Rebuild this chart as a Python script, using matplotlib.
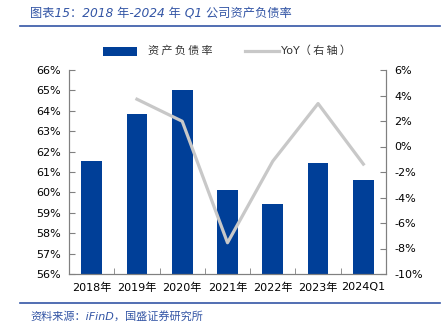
import matplotlib.pyplot as plt
import matplotlib.ticker as mticker
from matplotlib.patches import Rectangle
from matplotlib.lines import Line2D
import numpy as np

plt.rcParams['font.family'] = ['DejaVu Sans', 'Noto Sans CJK SC']

# data
years = ["2018年", "2019年", "2020年", "2021年", "2022年", "2023年", "2024Q1"]
debt_ratio = [61.55, 63.82, 65.04, 60.14, 59.41, 61.42, 60.59]   # %
yoy = [None, 3.71, 1.98, -7.55, -1.15, 3.37, -1.38]              # %, right axis

bar_color = "#003f98"
line_color = "#c8c8c8"
spine_color = "#808080"
title_color = "#3355a5"

W, H = 443, 332
fig = plt.figure(figsize=(W/100, H/100), dpi=100)
ax = fig.add_axes([69/W, 1 - 274/H, (386-69)/W, (274-70)/H])
ax2 = ax.twinx()

x = np.arange(len(years))
ax.bar(x, debt_ratio, width=0.46, color=bar_color, zorder=2)

x_line = [i for i, v in enumerate(yoy) if v is not None]
y_line = [v for v in yoy if v is not None]
ax2.plot(x_line, y_line, color=line_color, lw=2.3, zorder=3)

ax.set_xlim(-0.5, 6.5)
ax.set_ylim(56, 66)
ax.set_yticks(np.arange(56, 67, 1))
ax.yaxis.set_major_formatter(mticker.FuncFormatter(lambda v, p: f"{v:.0f}%"))
ax2.set_ylim(-10, 6)
ax2.set_yticks(np.arange(-10, 7, 2))
ax2.yaxis.set_major_formatter(mticker.FuncFormatter(lambda v, p: f"{v:.0f}%"))

ax.set_xticks(x)
ax.set_xticklabels(years)
ax.set_xticks(np.arange(-0.5, 7, 1), minor=True)
ax.tick_params(axis='x', which='major', length=0, labelsize=8, pad=6)
ax.tick_params(axis='x', which='minor', length=4, direction='in', color=spine_color)
ax.tick_params(axis='y', length=4, direction='in', color=spine_color, labelsize=8, pad=6)
ax2.tick_params(axis='y', length=4, direction='in', color=spine_color, labelsize=8, pad=6)

for a in (ax, ax2):
    a.spines['top'].set_visible(False)
    for s in ('left', 'right', 'bottom'):
        a.spines[s].set_color(spine_color)
        a.spines[s].set_linewidth(0.8)

# legend, drawn by hand in pixel positions
fig.add_artist(Rectangle((103/W, 1 - 56/H), 34/W, 9/H, facecolor=bar_color,
                         edgecolor='none', transform=fig.transFigure))
fig.text(148/W, 1 - 51/H, "资\u2009产\u2009负\u2009债\u2009率", fontsize=8,
         va='center', ha='left', color='#333333')
fig.add_artist(Line2D([245/W, 279/W], [1 - 51/H, 1 - 51/H], color=line_color, lw=2.3))
fig.text(281/W, 1 - 51/H, "YoY（\u2009右\u2009轴\u2009）", fontsize=8,
         va='center', ha='left', color='#333333')

# title, rules, source
fig.text(30/W, 1 - 13/H, "图表15：2018 年-2024 年 Q1 公司资产负债率", color=title_color,
         fontsize=8.8, style='italic', va='center', ha='left')
fig.add_artist(Line2D([20/W, 440/W], [1 - 26/H, 1 - 26/H], color=title_color, lw=1.2))
fig.add_artist(Line2D([20/W, 440/W], [1 - 303/H, 1 - 303/H], color=title_color, lw=1.2))
fig.text(30/W, 1 - 316/H, "资料来源：iFinD，国盛证券研究所", color=title_color,
         fontsize=8, style='italic', va='center', ha='left')

fig.savefig("out.png", dpi=100)
